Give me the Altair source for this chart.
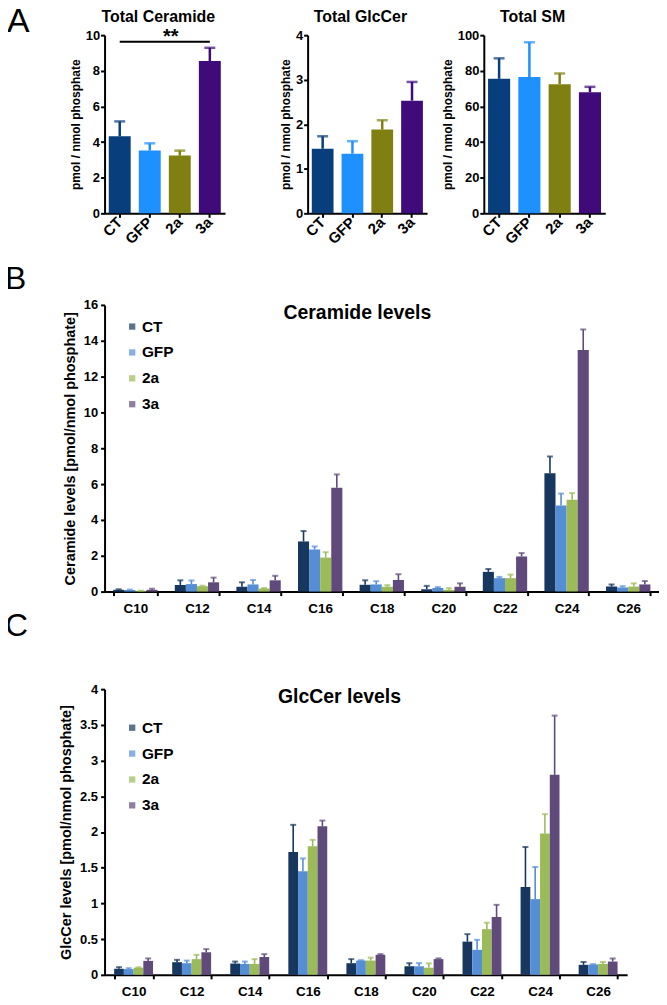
import altair as alt
import pandas as pd

FONT = "Liberation Sans"

groups = ["CT", "GFP", "2a", "3a"]
colors_total = ["#083e7b", "#1e90ff", "#808012", "#3f0a7a"]
colors_chain = ["#17375e", "#558ed5", "#9bbb59", "#604a7b"]

# ---- Panel A: totals (mean, SEM) ----
cer_total = [4.32, 3.52, 3.24, 8.55]
cer_total_sem = [0.84, 0.41, 0.28, 0.74]
glc_total = [1.45, 1.34, 1.88, 2.53]
glc_total_sem = [0.28, 0.28, 0.21, 0.42]
sm_total = [75.5, 76.5, 72.5, 68.0]
sm_total_sem = [11.5, 19.5, 6.0, 3.0]
sig_pair = ["CT", "3a"]
sig_level = 9.63
sig_label = "**"

# ---- Panels B, C: chain-length species ----
chains = ["C10", "C12", "C14", "C16", "C18", "C20", "C22", "C24", "C26"]

cer_ct = [0.10, 0.37, 0.27, 2.80, 0.38, 0.13, 1.10, 6.60, 0.28]
cer_ct_sem = [0.03, 0.26, 0.25, 0.58, 0.25, 0.19, 0.16, 0.94, 0.12]
cer_gfp = [0.09, 0.42, 0.40, 2.35, 0.40, 0.20, 0.75, 4.80, 0.23]
cer_gfp_sem = [0.02, 0.20, 0.25, 0.17, 0.18, 0.05, 0.07, 0.67, 0.07]
cer_2a = [0.04, 0.30, 0.17, 1.90, 0.27, 0.10, 0.75, 5.13, 0.28]
cer_2a_sem = [0.01, 0.03, 0.03, 0.30, 0.09, 0.09, 0.20, 0.37, 0.18]
cer_3a = [0.10, 0.52, 0.63, 5.80, 0.65, 0.27, 1.96, 13.48, 0.40]
cer_3a_sem = [0.06, 0.26, 0.25, 0.74, 0.32, 0.19, 0.19, 1.15, 0.19]

glc_ct = [0.085, 0.177, 0.158, 1.72, 0.163, 0.12, 0.465, 1.23, 0.14]
glc_ct_sem = [0.022, 0.033, 0.028, 0.38, 0.057, 0.043, 0.105, 0.56, 0.04]
glc_gfp = [0.08, 0.163, 0.153, 1.45, 0.20, 0.12, 0.35, 1.06, 0.144]
glc_gfp_sem = [0.013, 0.037, 0.033, 0.18, 0.005, 0.043, 0.14, 0.45, 0.006]
glc_2a = [0.10, 0.22, 0.153, 1.80, 0.20, 0.10, 0.64, 1.98, 0.153]
glc_2a_sem = [0.005, 0.06, 0.067, 0.09, 0.04, 0.06, 0.09, 0.27, 0.027]
glc_3a = [0.195, 0.316, 0.25, 2.08, 0.28, 0.22, 0.81, 2.80, 0.186]
glc_3a_sem = [0.035, 0.044, 0.04, 0.08, 0.01, 0.01, 0.17, 0.83, 0.044]


def text_layer(text, x, y, size, weight="bold", align="center"):
    return alt.Chart(pd.DataFrame({"t": [text]})).mark_text(
        fontSize=size, fontWeight=weight, align=align, baseline="alphabetic",
        color="black", font=FONT
    ).encode(text="t:N", x=alt.value(x), y=alt.value(y))


def total_panel(title, values, sems, ymax, ystep, plot_w, cell_w, title_x,
                letter=None, sig=False):
    df = pd.DataFrame({"group": groups, "value": values,
                       "top": [v + s for v, s in zip(values, sems)]})
    xenc = alt.X("group:N", sort=groups,
                 scale=alt.Scale(paddingInner=0.27, paddingOuter=0.14,
                                 range=[0, plot_w]),
                 axis=alt.Axis(title=None, labelAngle=-45, labelAlign="right",
                               labelBaseline="middle", labelFontSize=15,
                               labelPadding=2, tickSize=4))
    yaxis = alt.Axis(title="pmol / nmol phosphate",
                     values=list(range(0, ymax + 1, ystep)),
                     labelFontSize=13, titleFontSize=12, tickSize=4,
                     labelPadding=1, titlePadding=3)
    yscale = alt.Scale(domain=[0, ymax], nice=False)
    yenc = alt.Y("value:Q", scale=yscale, axis=yaxis)
    ytop = alt.Y("top:Q", scale=yscale, axis=yaxis)
    cenc = alt.Color("group:N", sort=groups,
                     scale=alt.Scale(domain=groups, range=colors_total), legend=None)
    base = alt.Chart(df)
    layers = [
        base.mark_bar().encode(x=xenc, y=yenc, color=cenc),
        base.mark_rule(strokeWidth=2.5).encode(x=xenc, y=yenc, y2=alt.Y2("top:Q"),
                                               color=cenc),
        base.mark_tick(thickness=2.5, size=11).encode(x=xenc, y=ytop, color=cenc),
        text_layer(title, title_x, -13, 16),
    ]
    if sig:
        sdf = pd.DataFrame({"group": sig_pair, "value": [sig_level] * 2})
        layers.append(alt.Chart(sdf).mark_line(color="black", strokeWidth=2).encode(
            x=xenc, y=yenc))
        tdf = pd.DataFrame({"group": ["GFP"], "value": [sig_level], "t": [sig_label]})
        layers.append(alt.Chart(tdf).mark_text(
            fontSize=20, fontWeight="bold", dx=21, dy=-5, baseline="middle",
            color="black", font=FONT
        ).encode(x=xenc, y=yenc, text="t:N"))
    if letter:
        layers.append(text_layer(letter, -98, -3, 34, weight="normal", align="left"))
    return alt.layer(*layers).properties(width=cell_w, height=179)


def chain_panel(title, vals, sems, ymax, yvals, fmt, width, height, ytitle,
                legend_y, pad_inner, letter, letter_y, title_x):
    rows = []
    for g, vv, ss in zip(groups, vals, sems):
        for c, v, s in zip(chains, vv, ss):
            rows.append({"chain": c, "series": g, "value": v, "top": v + s})
    df = pd.DataFrame(rows)
    xenc = alt.X("chain:N", sort=chains,
                 scale=alt.Scale(paddingInner=pad_inner, paddingOuter=pad_inner / 2),
                 axis=alt.Axis(title=None, labelAngle=0, tickBand="extent",
                               labelFontSize=13.5, labelPadding=6, tickSize=4))
    xoff = alt.XOffset("series:N", sort=groups,
                       scale=alt.Scale(domain=groups, paddingInner=0, paddingOuter=0))
    yaxis = alt.Axis(title=ytitle, values=yvals, format=fmt,
                     labelFontSize=13, titleFontSize=14.5, tickSize=4,
                     labelPadding=3, titlePadding=6)
    yscale = alt.Scale(domain=[0, ymax], nice=False)
    yenc = alt.Y("value:Q", scale=yscale, axis=yaxis)
    ytop = alt.Y("top:Q", scale=yscale, axis=yaxis)
    cenc = alt.Color("series:N", sort=groups,
                     scale=alt.Scale(domain=groups, range=colors_chain),
                     legend=alt.Legend(title=None, orient="none", legendX=20,
                                       legendY=legend_y, symbolType="square",
                                       symbolSize=40, labelFontSize=15.5,
                                       labelFontWeight="bold", rowPadding=9,
                                       labelOffset=2, symbolStrokeWidth=0,
                                       labelFont=FONT, labelColor="black"))
    base = alt.Chart(df)
    layers = [
        base.mark_bar().encode(x=xenc, xOffset=xoff, y=yenc, color=cenc),
        base.mark_rule(strokeWidth=1.6).encode(x=xenc, xOffset=xoff, y=yenc,
                                               y2=alt.Y2("top:Q"), color=cenc),
        base.mark_tick(thickness=2, size=6).encode(x=xenc, xOffset=xoff, y=ytop,
                                                   color=cenc),
        text_layer(title, title_x, 14, 19.5),
        text_layer(letter, -100, letter_y, 32, weight="normal", align="left"),
    ]
    return alt.layer(*layers).properties(width=width, height=height)


pa1 = total_panel("Total Ceramide", cer_total, cer_total_sem, 10, 2, 121, 142, 54,
                  letter="A", sig=True)
pa2 = total_panel("Total GlcCer", glc_total, glc_total_sem, 4, 1, 120, 115, 53)
pa3 = total_panel("Total SM", sm_total, sm_total_sem, 100, 20, 122, 122, 49)
row_a = alt.hconcat(pa1, pa2, pa3, spacing=62, bounds="flush")

pb = chain_panel("Ceramide levels", [cer_ct, cer_gfp, cer_2a, cer_3a],
                 [cer_ct_sem, cer_gfp_sem, cer_2a_sem, cer_3a_sem],
                 16, list(range(0, 17, 2)), "d", 557, 288,
                 "Ceramide levels [pmol/nmol phosphate]", 14, 0.28, "B", -16, 254)
pc = chain_panel("GlcCer levels", [glc_ct, glc_gfp, glc_2a, glc_3a],
                 [glc_ct_sem, glc_gfp_sem, glc_2a_sem, glc_3a_sem],
                 4, [i * 0.5 for i in range(9)], "~g", 525, 287,
                 "GlcCer levels [pmol/nmol phosphate]", 31, 0.33, "C", -53, 236)
row_bc = alt.vconcat(pb, pc, spacing=98, bounds="flush").resolve_scale(
    color="independent", xOffset="independent")

chart = alt.vconcat(row_a, row_bc, spacing=16).resolve_scale(
    color="independent", xOffset="independent"
).properties(
    padding={"left": -3, "top": -5, "right": 0, "bottom": 0}
).configure_axis(
    domainColor="black", domainWidth=2, tickColor="black", tickWidth=2, grid=False,
    labelColor="black", titleColor="black", labelFont=FONT, titleFont=FONT,
    labelFontWeight="bold", titleFontWeight="bold"
).configure_view(stroke=None).configure_text(font=FONT)

chart.save("out.html", embed_options={"renderer": "svg", "actions": False})
